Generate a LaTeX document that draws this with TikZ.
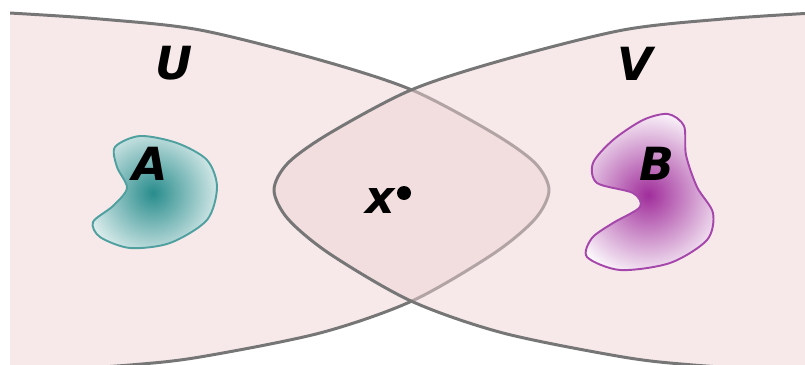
\documentclass[tikz,border=0pt]{standalone}
\usepackage{fontspec}
\setmainfont{DejaVu Sans}
\definecolor{setpink}{RGB}{239,211,213}
\definecolor{setline}{RGB}{118,118,118}
\definecolor{tealA}{RGB}{40,140,140}
\definecolor{tealline}{RGB}{80,160,160}
\definecolor{purpleB}{RGB}{160,45,155}
\definecolor{purpleline}{RGB}{165,70,170}
\begin{document}
\begin{tikzpicture}[x=0.02cm,y=-0.02cm,line join=round,line cap=round,font=\fontsize{26}{30}\selectfont\bfseries\itshape]
			\def\setU{plot[smooth] coordinates {(-30,11) (10,13) (100,19) (200,30) (320,60) (412,90) (493,133) (535,163) (549,190) (535,219) (493,254) (412,301) (320,333) (200,357) (130,365) (10,373) (-30,376)} -- cycle}
			\def\setV{plot[smooth] coordinates {(853,11) (813,13) (723,19) (623,30) (503,60) (411,90) (330,133) (288,163) (274,190) (288,219) (330,254) (411,301) (503,333) (623,357) (693,365) (813,373) (853,376)} -- cycle}
			\def\blobA{plot[smooth cycle] coordinates {(115,147) (140,136) (177,143) (207,160) (217,187) (207,220) (170,243) (130,248) (100,237) (93,222) (113,206) (127,188) (117,167)}}
			\def\blobB{plot[smooth cycle] coordinates {(668,114) (684,126) (686,155) (697,187) (713,213) (707,240) (670,263) (620,270) (587,257) (592,238) (613,223) (640,207) (633,193) (597,183) (593,163) (613,140) (643,120)}}
			\useasboundingbox (0,0) rectangle (805,365);
			\clip (10,0) rectangle (805,365);
			\filldraw[fill=setpink,fill opacity=0.5,draw=setline,line width=1.7pt] \setU;
			\filldraw[fill=setpink,fill opacity=0.5,draw=setline,line width=1.7pt] \setV;
			\begin{scope}
				\clip \blobA;
				\shade[inner color=tealA,outer color=white] (153,193) circle (82);
			\end{scope}
			\draw[tealline,line width=1.1pt] \blobA;
			\begin{scope}
				\clip \blobB;
				\shade[inner color=purpleB,outer color=white] (648,195) circle (88);
			\end{scope}
			\draw[purpleline,line width=1.1pt] \blobB;
			\node (U) at (174,63){U};
			\node (V) at (635,64){V};
			\node (A) at (150,164){A};
			\node (B) at (657,164){B};
			\node (x) at (380,201){x};
			\fill (404,193) circle (7);
	\end{tikzpicture}
\end{document}
